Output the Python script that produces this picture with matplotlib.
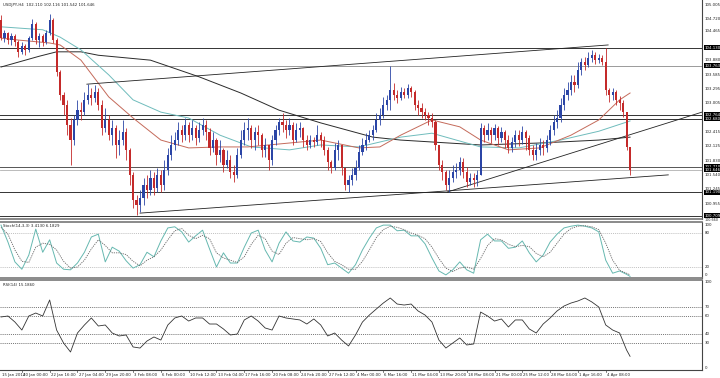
import matplotlib.pyplot as plt
import matplotlib.transforms as mtransforms

# USDJPY H4 candles (one candle ~ 8 hours)
first_open = 104.70
closes = [
    104.33, 104.43, 104.29, 104.37, 104.25, 104.05, 104.17, 104.09, 104.33, 104.62,
    104.29, 104.37, 104.25, 104.43, 104.70, 104.29, 103.64, 103.17, 102.97, 102.56,
    102.25, 102.66, 102.86, 102.82, 103.07, 103.17, 103.11, 103.23, 102.97, 102.50,
    102.66, 102.35, 102.50, 102.15, 102.25, 102.41, 102.05, 101.54, 101.03, 100.93,
    101.07, 101.33, 101.23, 101.48, 101.27, 101.54, 101.33, 101.64, 101.95, 102.15,
    102.25, 102.46, 102.35, 102.56, 102.35, 102.50, 102.29, 102.46, 102.56, 102.41,
    102.09, 102.25, 101.95, 102.05, 101.74, 101.84, 101.60, 101.54, 101.95, 102.25,
    102.46, 102.50, 102.25, 102.41, 102.35, 102.05, 102.15, 101.84, 102.25, 102.46,
    102.62, 102.56, 102.46, 102.56, 102.25, 102.46, 102.50, 102.25, 102.15, 102.25,
    102.21, 102.35, 102.25, 102.05, 101.80, 101.68, 102.05, 102.15, 101.68, 101.33,
    101.44, 101.54, 101.68, 102.01, 102.15, 102.25, 102.35, 102.46, 102.66, 102.76,
    102.97, 103.07, 103.27, 103.17, 103.11, 103.23, 103.17, 103.31, 103.23, 102.97,
    102.90, 102.82, 102.76, 102.70, 102.62, 102.15, 101.74, 101.60, 101.33, 101.48,
    101.60, 101.64, 101.80, 101.60, 101.39, 101.48, 101.44, 101.54, 102.50, 102.35,
    102.46, 102.35, 102.50, 102.29, 102.41, 102.25, 102.09, 102.21, 102.35, 102.25,
    102.41, 102.29, 102.05, 101.95, 102.05, 102.15, 102.09, 102.25, 102.46, 102.62,
    102.70, 102.97, 103.17, 103.27, 103.43, 103.37, 103.68, 103.84, 103.78, 103.92,
    103.98, 103.88, 103.92, 103.84, 103.27, 103.17, 103.23, 103.07, 103.01, 102.82,
    102.11, 101.646]
highs = [
    104.80, 104.50, 104.45, 104.43, 104.41, 104.29, 104.25, 104.21, 104.37, 104.72,
    104.66, 104.43, 104.41, 104.50, 104.82, 104.74, 104.33, 103.68, 103.23, 103.07,
    102.70, 102.76, 103.07, 103.03, 103.23, 103.39, 103.31, 103.37, 103.31, 103.07,
    102.90, 102.76, 102.66, 102.56, 102.46, 102.66, 102.50, 102.09, 101.60, 101.13,
    101.23, 101.48, 101.54, 101.64, 101.60, 101.68, 101.64, 101.84, 102.09, 102.35,
    102.41, 102.62, 102.56, 102.70, 102.62, 102.66, 102.56, 102.62, 102.70, 102.66,
    102.50, 102.41, 102.29, 102.25, 102.09, 102.05, 101.95, 101.74, 102.09, 102.46,
    102.62, 102.70, 102.56, 102.52, 102.56, 102.39, 102.29, 102.15, 102.35, 102.56,
    102.70, 102.80, 102.66, 102.70, 102.62, 102.60, 102.62, 102.52, 102.35, 102.35,
    102.31, 102.56, 102.41, 102.33, 102.11, 101.84, 102.19, 102.25, 102.15, 101.68,
    101.54, 101.68, 101.84, 102.15, 102.29, 102.39, 102.46, 102.56, 102.80, 102.90,
    103.13, 103.17, 103.76, 103.41, 103.27, 103.33, 103.31, 103.39, 103.35, 103.27,
    103.07, 103.01, 102.90, 102.82, 102.80, 102.66, 102.15, 101.84, 101.64, 101.64,
    101.74, 101.78, 101.90, 101.88, 101.70, 101.58, 101.58, 101.64, 102.60, 102.56,
    102.60, 102.52, 102.58, 102.54, 102.52, 102.46, 102.35, 102.31, 102.46, 102.46,
    102.54, 102.46, 102.35, 102.15, 102.19, 102.29, 102.25, 102.35, 102.56, 102.76,
    102.86, 103.11, 103.31, 103.43, 103.58, 103.58, 103.84, 103.92, 103.94, 104.05,
    104.09, 104.05, 104.01, 103.98, 104.12, 103.31, 103.31, 103.27, 103.15, 103.07,
    102.82, 102.116]
lows = [
    104.29, 104.25, 104.21, 104.19, 104.17, 103.94, 104.01, 103.98, 104.05, 104.29,
    104.21, 104.15, 104.17, 104.21, 104.39, 104.23, 103.56, 103.07, 102.76, 102.35,
    101.74, 102.15, 102.56, 102.66, 102.76, 102.99, 102.97, 103.03, 102.86, 102.35,
    102.41, 102.25, 102.15, 101.88, 101.95, 102.15, 101.84, 101.33, 100.86, 100.72,
    100.78, 100.93, 101.07, 101.13, 101.13, 101.19, 101.19, 101.23, 101.54, 101.84,
    102.05, 102.15, 102.21, 102.25, 102.21, 102.25, 102.15, 102.21, 102.35, 102.25,
    101.95, 102.01, 101.74, 101.80, 101.60, 101.68, 101.48, 101.39, 101.48, 101.88,
    102.15, 102.25, 102.09, 102.05, 102.15, 101.90, 101.90, 101.64, 101.74, 102.15,
    102.35, 102.41, 102.29, 102.35, 102.15, 102.21, 102.31, 102.11, 102.05, 102.09,
    102.11, 102.15, 102.11, 101.95, 101.64, 101.58, 101.64, 101.84, 101.54, 101.23,
    101.19, 101.33, 101.44, 101.64, 101.95, 102.05, 102.21, 102.25, 102.41, 102.56,
    102.70, 102.86, 102.86, 103.07, 103.01, 103.07, 103.11, 103.11, 103.13, 102.86,
    102.76, 102.70, 102.66, 102.56, 102.52, 102.05, 101.64, 101.44, 101.23, 101.19,
    101.39, 101.48, 101.54, 101.48, 101.29, 101.33, 101.29, 101.31, 101.54, 102.21,
    102.25, 102.19, 102.25, 102.15, 102.21, 102.09, 101.99, 102.01, 102.11, 102.13,
    102.17, 102.05, 101.95, 101.84, 101.84, 101.95, 101.95, 102.01, 102.15, 102.35,
    102.50, 102.62, 102.86, 103.07, 103.17, 103.23, 103.31, 103.58, 103.68, 103.74,
    103.84, 103.80, 103.82, 103.78, 103.17, 103.03, 103.07, 102.97, 102.86, 102.72,
    102.05, 101.542]

# moving averages (bar index, price)
ma_black_idx = [0, 5, 11, 16, 23, 28, 43, 57, 69, 80, 92, 107, 115, 138, 155, 172, 181]
ma_black = [103.74, 103.84, 103.96, 104.05, 104.05, 103.98, 103.88, 103.54, 103.21,
            102.86, 102.60, 102.31, 102.25, 102.15, 102.19, 102.25, 102.31]
ma_teal_idx = [0, 12, 17, 23, 31, 38, 46, 54, 63, 72, 83, 92, 103, 115, 124, 138, 149, 161, 172, 181]
ma_teal = [104.56, 104.50, 104.35, 104.09, 103.58, 103.07, 102.82, 102.70, 102.35, 102.11,
           102.05, 102.15, 102.11, 102.31, 102.39, 102.11, 102.09, 102.25, 102.43, 102.64]
ma_red_idx = [0, 5, 14, 17, 23, 31, 38, 46, 54, 63, 71, 92, 103, 109, 115, 124, 132, 138,
              146, 155, 164, 172, 178, 181]
ma_red = [104.33, 104.29, 104.23, 104.19, 103.88, 103.13, 102.70, 102.25, 102.09, 102.11,
          102.11, 102.25, 102.09, 102.11, 102.35, 102.66, 102.52, 102.25, 102.05, 102.09,
          102.35, 102.66, 103.07, 103.21]

# horizontal levels and trend lines
levels = [104.130, 103.763, 102.764, 102.680, 101.710, 101.190, 100.709]
level_colors = ['#333333', '#9a9a9a', '#333333', '#333333', '#555555', '#333333', '#333333']
bid = 101.646
trend_lines = [(24.7, 103.39, 174.7, 104.19),
               (40.0, 100.76, 192.0, 101.54),
               (128.4, 101.19, 201.7, 102.82)]

price_ticks = [105.005, 104.720, 104.465, 103.880, 103.585, 103.295, 103.005,
               102.415, 102.125, 101.830, 101.540, 101.245, 100.955]
price_bottom = 100.660

# indicators, every second bar
ind_idx = list(range(0, 181, 2)) + [181]
stoch_main = [94, 64, 29, 16, 41, 87, 46, 68, 27, 16, 15, 27, 46, 73, 78, 29, 55, 48, 31, 18,
              24, 46, 38, 66, 89, 91, 82, 64, 75, 85, 52, 20, 45, 27, 27, 55, 80, 85, 50, 29,
              62, 82, 66, 64, 73, 71, 53, 24, 27, 18, 9, 24, 50, 71, 89, 94, 94, 84, 85, 75,
              75, 61, 36, 13, 6, 15, 29, 15, 9, 68, 78, 66, 66, 53, 55, 66, 45, 29, 41, 64,
              78, 89, 92, 94, 92, 89, 82, 32, 9, 13, 7, 3.41]
stoch_signal = [90, 78, 50, 30, 28, 55, 62, 60, 50, 30, 18, 20, 32, 52, 68, 58, 45, 45, 42, 30,
                22, 32, 38, 50, 68, 84, 88, 76, 70, 76, 70, 45, 36, 32, 28, 38, 60, 76, 70, 48,
                42, 62, 72, 70, 68, 70, 65, 45, 30, 24, 16, 16, 30, 50, 72, 86, 92, 90, 86, 80,
                76, 70, 55, 35, 18, 12, 18, 20, 16, 35, 58, 70, 68, 60, 56, 58, 56, 44, 38, 46,
                62, 78, 88, 92, 93, 91, 86, 62, 32, 14, 9, 6.18]
rsi = [58.9, 60, 53.3, 44.4, 60, 63.3, 60, 77.8, 44.4, 30, 20, 41.1, 50, 57.8, 48.9, 50, 41.1,
       37.8, 38.9, 25.6, 24.4, 32.2, 36.7, 33.3, 50, 57.8, 60, 54.4, 57.8, 57.8, 51.1, 51.1,
       45.6, 38.9, 40, 55.6, 60, 54.4, 46.7, 44.4, 60, 57.8, 56.7, 55.6, 51.1, 56.7, 50, 37.8,
       41.1, 33.3, 26.7, 38.9, 53.3, 61.1, 67.8, 74.4, 80, 73.3, 72.2, 73.3, 65.6, 61.1, 53.3,
       33.3, 24.4, 30, 35.6, 27.8, 28.9, 64.4, 60, 54.4, 56.7, 47.8, 55.6, 55.6, 45.6, 41.1,
       51.1, 57.8, 65.6, 71.1, 74.4, 76.7, 80, 75.6, 70, 50, 44.4, 41.1, 22.2, 15.19]

time_labels = ['15 Jan 2014', '20 Jan 00:00', '22 Jan 16:00', '27 Jan 04:00', '29 Jan 20:00',
               '3 Feb 08:00', '6 Feb 00:00', '10 Feb 12:00', '13 Feb 04:00', '17 Feb 16:00',
               '20 Feb 08:00', '24 Feb 20:00', '27 Feb 12:00', '4 Mar 00:00', '6 Mar 16:00',
               '11 Mar 04:00', '13 Mar 20:00', '18 Mar 08:00', '21 Mar 00:00', '25 Mar 12:00',
               '28 Mar 04:00', '1 Apr 16:00', '4 Apr 08:00']
time_label_idx = [-2 + 8 * i for i in range(len(time_labels))]

BULL = '#2b45a6'
BEAR = '#c42a2a'
FS = 2.8

fig = plt.figure(figsize=(7.2, 3.78), dpi=100)
H = 378.0
W = 702.0 / 720


def panel(top, bottom):
    return fig.add_axes([0, 1 - bottom / H, W, (bottom - top) / H])


ax = panel(0, 219)
ax_st = panel(221.7, 278.3)
ax_rsi = panel(280, 370)

xlim = (-0.29, 201.7)
for a in (ax, ax_st, ax_rsi):
    a.set_xlim(*xlim)
    a.set_xticks([])
    a.set_yticks([])
    a.spines['left'].set_visible(False)
    a.spines['right'].set_color('#444444')
    a.spines['right'].set_linewidth(0.8)
    a.spines['top'].set_color('#777777')
    a.spines['bottom'].set_color('#777777')
    a.spines['top'].set_linewidth(1.2)
    a.spines['bottom'].set_linewidth(1.2)
ax.spines['top'].set_visible(False)
ax_rsi.spines['bottom'].set_color('#444444')
ax_rsi.spines['bottom'].set_linewidth(0.8)

# ---- price panel ----
ax.set_ylim(100.64, 105.107)
opens = [first_open] + closes[:-1]
for i in range(len(closes)):
    o, c = opens[i], closes[i]
    col = BULL if c >= o else BEAR
    ax.vlines(i, lows[i], highs[i], color=col, lw=0.6, zorder=3)
    ax.bar(i, max(abs(c - o), 0.008), bottom=min(o, c), width=0.62,
           color=col, linewidth=0, zorder=4)

ax.plot(ma_black_idx, ma_black, color='#2a2a2a', lw=0.7, zorder=2)
ax.plot(ma_teal_idx, ma_teal, color='#6fbcbc', lw=0.7, zorder=2)
ax.plot(ma_red_idx, ma_red, color='#c46a5a', lw=0.7, zorder=2)

for lv, lc in zip(levels, level_colors):
    ax.axhline(lv, color=lc, lw=0.7, zorder=1)
ax.axhline(bid, color='#b0b0b0', lw=0.6, zorder=1)
for x0, y0, x1, y1 in trend_lines:
    ax.plot([x0, x1], [y0, y1], color='#222222', lw=0.6, zorder=2)

tr = mtransforms.blended_transform_factory(ax.transAxes, ax.transData)
for p in price_ticks:
    ax.text(1.004, p, '%.3f' % p, transform=tr, fontsize=FS, va='center', ha='left',
            color='#222222', clip_on=False)
ax.text(1.004, price_bottom, '%.3f' % price_bottom, transform=tr, fontsize=2.4,
        va='top', ha='left', color='#222222', clip_on=False)
for p in levels + [bid]:
    ax.text(1.004, p, '%.3f' % p, transform=tr, fontsize=FS, va='center', ha='left',
            color='white', clip_on=False,
            bbox=dict(boxstyle='square,pad=0.12', fc='black', ec='none'))

ax.text(0.004, 0.985, 'USDJPY,H4  102.110 102.116 101.542 101.646', transform=ax.transAxes,
        fontsize=FS, va='top', ha='left', color='#222222')

# ---- stochastic ----
ax_st.set_ylim(0, 100)
for lv in (80, 20):
    ax_st.axhline(lv, color='#aaaaaa', lw=0.5, ls=(0, (1.5, 1.5)))
ax_st.plot(ind_idx, stoch_main, color='#66b8b0', lw=0.7)
ax_st.plot(ind_idx, stoch_signal, color='#666666', lw=0.6, ls=(0, (1.5, 1.2)))
ax_st.text(0.004, 0.96, 'Stoch(14,3,3) 3.4130 6.1829', transform=ax_st.transAxes,
           fontsize=FS, va='top', ha='left', color='#222222')
str_ = mtransforms.blended_transform_factory(ax_st.transAxes, ax_st.transData)
for v, pos, va in ((100, 94, 'center'), (80, 80, 'center'), (20, 20, 'center'), (0, 5, 'center')):
    ax_st.text(1.004, pos, str(v), fontsize=FS, va=va, ha='left', color='#222222',
               transform=str_, clip_on=False)

# ---- RSI ----
ax_rsi.set_ylim(0, 100)
for lv in (70, 60, 40, 30):
    ax_rsi.axhline(lv, color='#444444', lw=0.5, ls=(0, (1.5, 1.5)))
ax_rsi.plot(ind_idx, rsi, color='#333333', lw=0.6)
ax_rsi.text(0.004, 0.97, 'RSI(14) 15.1860', transform=ax_rsi.transAxes,
            fontsize=FS, va='top', ha='left', color='#222222')
rtr = mtransforms.blended_transform_factory(ax_rsi.transAxes, ax_rsi.transData)
for v in (100, 70, 60, 40, 30, 0):
    va = 'center'
    if v == 100:
        va = 'top'
    if v == 0:
        va = 'bottom'
    ax_rsi.text(1.004, v, str(v), fontsize=FS, va=va, ha='left', color='#222222',
                transform=rtr, clip_on=False)

# time axis
btr = mtransforms.blended_transform_factory(ax_rsi.transData, ax_rsi.transAxes)
for xi, lab in zip(time_label_idx, time_labels):
    ax_rsi.plot([xi, xi], [0, -0.025], color='#444444', lw=0.5, transform=btr, clip_on=False)
    ax_rsi.text(max(xi + 0.3, 0.2), -0.03, lab, fontsize=FS, va='top', ha='left',
                color='#222222', transform=btr, clip_on=False)

fig.savefig('out.png', dpi=100)
